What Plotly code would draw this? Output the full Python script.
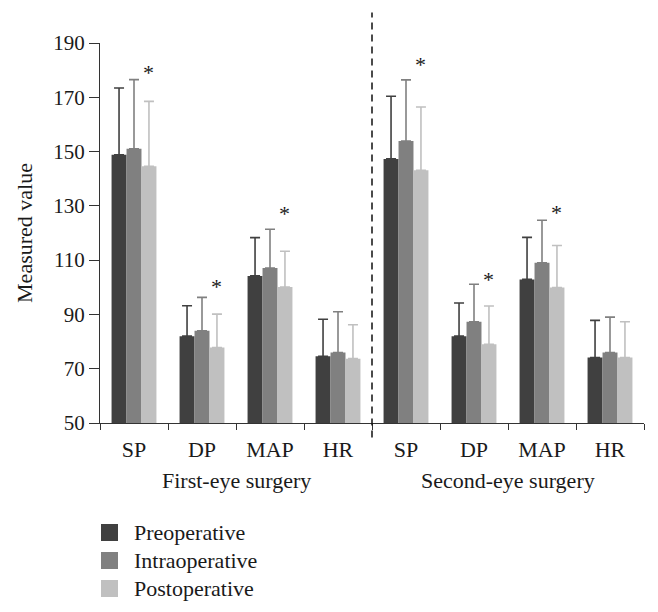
import plotly.graph_objects as go

categories = ["SP", "DP", "MAP", "HR", "SP", "DP", "MAP", "HR"]
groups = ["First-eye surgery", "Second-eye surgery"]
series_names = ["Preoperative", "Intraoperative", "Postoperative"]

pre_mean = [148.8, 82.0, 104.2, 74.6, 147.3, 82.0, 102.9, 74.1]
pre_err_top = [173.4, 93.2, 118.3, 88.2, 170.4, 94.2, 118.4, 87.8]
intra_mean = [151.0, 84.0, 107.1, 76.0, 153.9, 87.3, 109.0, 76.0]
intra_err_top = [176.5, 96.3, 121.4, 91.0, 176.4, 101.1, 124.7, 89.0]
post_mean = [144.6, 77.8, 100.1, 73.7, 143.1, 79.0, 99.9, 74.1]
post_err_top = [168.5, 90.1, 113.3, 86.2, 166.4, 93.1, 115.4, 87.3]

star_cats = [0, 1, 2, 4, 5, 6]
star_y = [179.0, 100.2, 127.3, 182.0, 102.7, 127.4]

colors = ["#404040", "#808080", "#c0c0c0"]
FONT = "Liberation Serif"
TXT = "#1a1a1a"

x_pos = list(range(len(categories)))
means = [pre_mean, intra_mean, post_mean]
tops = [pre_err_top, intra_err_top, post_err_top]

fig = go.Figure()
for name, m, t, c in zip(series_names, means, tops, colors):
    fig.add_trace(go.Bar(
        x=x_pos, y=m, name=name, showlegend=False,
        marker=dict(color=c, line=dict(width=0)),
        error_y=dict(type="data", symmetric=False,
                     array=[tt - mm for tt, mm in zip(t, m)],
                     arrayminus=[0] * len(m),
                     color=c, thickness=1.6, width=5),
    ))

for ci, yv in zip(star_cats, star_y):
    fig.add_annotation(x=ci + 0.22, y=yv, text="*", showarrow=False,
                       font=dict(family=FONT, size=22, color=TXT),
                       xref="x", yref="y", yanchor="middle")

n_per_group = len(categories) // len(groups)
for gi, g in enumerate(groups):
    center = gi * n_per_group + (n_per_group - 1) / 2
    fig.add_annotation(x=center, y=-0.152, xref="x", yref="paper", text=g,
                       showarrow=False, font=dict(family=FONT, size=22, color=TXT),
                       yanchor="middle")

fig.add_shape(type="line", x0=n_per_group - 0.5, x1=n_per_group - 0.5,
              y0=-0.038, y1=1.08, xref="x", yref="paper",
              line=dict(color="#111", width=1.5, dash="7px,5px"))

# manual legend (17px squares, 28px row spacing)
PLOT_H = 380.0
PLOT_W = 544.0
for i, (name, c) in enumerate(zip(series_names, colors)):
    top_px = 524 + 28 * i - 423
    y0 = -(top_px + 17) / PLOT_H
    y1 = -top_px / PLOT_H
    fig.add_shape(type="rect", xref="paper", yref="paper",
                  x0=1 / PLOT_W, x1=18 / PLOT_W, y0=y0, y1=y1,
                  fillcolor=c, line=dict(width=0))
    fig.add_annotation(xref="paper", yref="paper", x=32 / PLOT_W, y=(y0 + y1) / 2,
                       text=name, showarrow=False, xanchor="left", yanchor="middle",
                       font=dict(family=FONT, size=22, color=TXT))

# page body has an 8px default margin; size the figure so the plot lands where the reference has it
fig.update_layout(
    width=650, height=604,
    margin=dict(l=92, r=14, t=35, b=189),
    paper_bgcolor="white", plot_bgcolor="white",
    barmode="group", bargap=0.34, bargroupgap=0,
    font=dict(family=FONT, size=22, color=TXT),
    showlegend=False,
)
fig.update_xaxes(
    range=[-0.5, len(categories) - 0.5], automargin=False,
    tickmode="array", tickvals=x_pos, ticktext=categories, ticks="",
    ticklabelstandoff=6,
    showline=True, linecolor="#333", linewidth=1.2, showgrid=False, zeroline=False,
    tickfont=dict(family=FONT, size=22, color=TXT),
    minor=dict(tickmode="array", tickvals=[i - 0.5 for i in range(len(categories) + 1)],
               ticks="outside", ticklen=6, tickcolor="#333", tickwidth=1.2, showgrid=False),
)
fig.update_yaxes(
    range=[50, 190], automargin=False, tickmode="array", tickvals=list(range(50, 191, 20)),
    ticks="outside", ticklen=10, tickcolor="#333", tickwidth=1.2,
    showline=True, linecolor="#333", linewidth=1.2, showgrid=False, zeroline=False,
    title=dict(text="Measured value", font=dict(family=FONT, size=22, color=TXT), standoff=14),
    tickfont=dict(family=FONT, size=21, color=TXT),
)

fig.write_html("out.html")
